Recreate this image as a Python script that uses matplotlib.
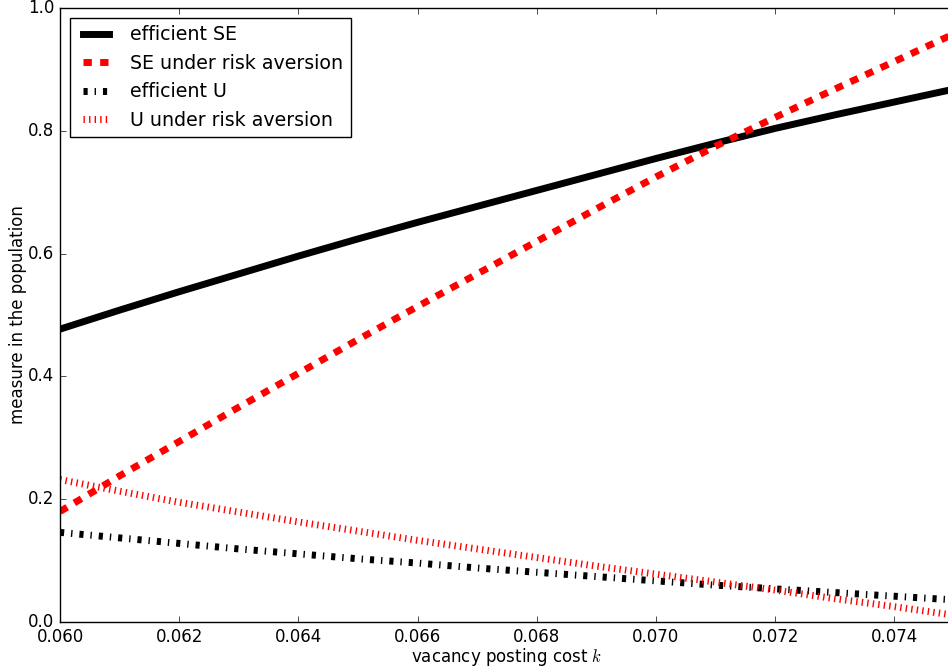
import matplotlib
matplotlib.use('Agg')
import matplotlib.pyplot as plt

# values
k = [0.060, 0.061, 0.062, 0.063, 0.064, 0.065, 0.066, 0.067,
     0.068, 0.069, 0.070, 0.071, 0.072, 0.073, 0.074, 0.075]
se_eff = [0.477, 0.508, 0.538, 0.567, 0.596, 0.624, 0.651, 0.677,
          0.703, 0.729, 0.755, 0.780, 0.804, 0.826, 0.847, 0.868]
se_risk = [0.180, 0.238, 0.294, 0.350, 0.405, 0.460, 0.514, 0.567,
           0.620, 0.673, 0.725, 0.775, 0.822, 0.868, 0.913, 0.958]
u_eff = [0.146, 0.137, 0.128, 0.119, 0.111, 0.103, 0.096, 0.088,
         0.081, 0.074, 0.067, 0.060, 0.054, 0.048, 0.042, 0.036]
u_risk = [0.232, 0.213, 0.195, 0.179, 0.163, 0.148, 0.133, 0.119,
          0.105, 0.091, 0.078, 0.065, 0.052, 0.038, 0.025, 0.011]

x_ticks = [0.060, 0.062, 0.064, 0.066, 0.068, 0.070, 0.072, 0.074]
y_ticks = [0.0, 0.2, 0.4, 0.6, 0.8, 1.0]


def main():
    plt.style.use('classic')
    fig = plt.figure(figsize=(9.48, 6.72), dpi=100, facecolor='white')
    ax = fig.add_axes([0.0633, 0.0744, 0.943, 0.9136])

    ax.plot(k, se_eff, 'k-', lw=5, label='efficient SE')
    ax.plot(k, se_risk, 'r--', lw=5, label='SE under risk aversion')
    ax.plot(k, u_eff, 'k-.', lw=5, label='efficient U')
    ax.plot(k, u_risk, 'r:', lw=5, label='U under risk aversion')

    ax.set_xlim(0.060, 0.075)
    ax.set_ylim(0.0, 1.0)
    ax.set_xticks(x_ticks)
    ax.set_yticks(y_ticks)
    ax.set_xticklabels([f'{t:.3f}' for t in x_ticks], fontsize=12)
    ax.set_yticklabels([f'{t:.1f}' for t in y_ticks], fontsize=12)
    ax.set_xlabel('vacancy posting cost $k$', fontsize=12, labelpad=0)
    ax.set_ylabel('measure in the population', fontsize=12, labelpad=1)
    ax.legend(loc='upper left', fontsize=13.7)

    fig.savefig('out.png', dpi=100, facecolor='white')


if __name__ == '__main__':
    main()
